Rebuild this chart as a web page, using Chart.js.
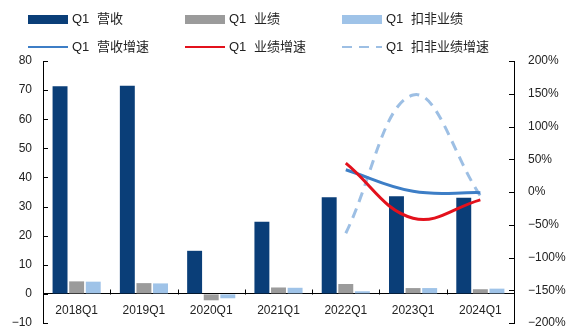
<!DOCTYPE html>
<html><head><meta charset="utf-8">
<script src="https://cdn.jsdelivr.net/npm/chart.js@4.4.1/dist/chart.umd.min.js"></script>
<style>html,body{margin:0;padding:0;background:#fff}#wrap{width:568px;height:332px;position:relative}</style>
</head><body><div id="wrap"><canvas id="c" width="568" height="332"></canvas></div>
<script>
const categories = ["2018Q1","2019Q1","2020Q1","2021Q1","2022Q1","2023Q1","2024Q1"];
const revenue = [71.3, 71.5, 14.8, 24.8, 33.2, 33.5, 33.0];
const profit = [4.3, 3.7, -2.2, 2.2, 3.4, 2.0, 1.6];
const profitDeducted = [4.2, 3.6, -1.5, 2.1, 0.9, 2.0, 1.8];
const revenueGrowth = [null, null, null, null, 34, 1, -1];
const profitGrowth = [null, null, null, null, 44, -40, -12];
const deductedGrowth = [null, null, null, null, -63, 148, -6];
const leftTicks = [-10, 0, 10, 20, 30, 40, 50, 60, 70, 80];
const rightTicks = [-200, -150, -100, -50, 0, 50, 100, 150, 200];

const FONT = "'Liberation Sans', Arial, 'Noto Sans CJK SC', sans-serif";
const minus = s => String(s).replace('-', '\u2212');

const legendPlugin = {
  id: 'customLegend',
  afterDraw(chart) {
    const ctx = chart.ctx;
    const ds = chart.data.datasets;
    const cols = [28, 185, 342];
    const rows = [19, 47];
    ctx.save();
    ctx.font = "13px " + FONT;
    ctx.textBaseline = 'middle';
    ctx.fillStyle = '#222';
    ds.forEach((d, i) => {
      const x = cols[i % 3], y = rows[Math.floor(i / 3)];
      if (d.type === 'line') {
        ctx.strokeStyle = d.borderColor;
        ctx.lineWidth = 2;
        ctx.setLineDash(d.borderDash || []);
        ctx.beginPath(); ctx.moveTo(x, y); ctx.lineTo(x + 40, y); ctx.stroke();
        ctx.setLineDash([]);
      } else {
        ctx.fillStyle = d.backgroundColor;
        ctx.fillRect(x, y - 4, 40, 9);
      }
      ctx.fillStyle = '#222';
      ctx.fillText('Q1', x + 44, y);
      ctx.fillText(d.label.replace('Q1 ', ''), x + 69, y);
    });
    ctx.restore();
  }
};

const tickPlugin = {
  id: 'innerTicks',
  afterDraw(chart) {
    const ctx = chart.ctx;
    const y = chart.scales.y, y1 = chart.scales.y1, x = chart.scales.x;
    const ca = chart.chartArea;
    ctx.save();
    ctx.strokeStyle = '#000';
    ctx.lineWidth = 1;
    ctx.beginPath();
    leftTicks.forEach(v => { const p = Math.round(y.getPixelForValue(v)) + 0.5; ctx.moveTo(ca.left, p); ctx.lineTo(ca.left + 5, p); });
    rightTicks.forEach(v => { const p = Math.round(y1.getPixelForValue(v)) + 0.5; ctx.moveTo(ca.right, p); ctx.lineTo(ca.right - 5, p); });
    const y0 = Math.round(y.getPixelForValue(0)) + 0.5;
    for (let i = 1; i < categories.length; i++) {
      const p = Math.round((x.getPixelForValue(i - 1) + x.getPixelForValue(i)) / 2) + 0.5;
      ctx.moveTo(p, y0); ctx.lineTo(p, y0 - 5);
    }
    ctx.stroke();
    ctx.restore();
  }
};

new Chart(document.getElementById('c'), {
  type: 'bar',
  data: {
    labels: categories,
    datasets: [
      { label: 'Q1 营收', data: revenue, backgroundColor: '#0a3e78', yAxisID: 'y', order: 2 },
      { label: 'Q1 业绩', data: profit, backgroundColor: '#9b9b9b', yAxisID: 'y', order: 2 },
      { label: 'Q1 扣非业绩', data: profitDeducted, backgroundColor: '#9fc3e8', yAxisID: 'y', order: 2 },
      { type: 'line', label: 'Q1 营收增速', data: revenueGrowth, borderColor: '#3d7ec6', borderWidth: 3, tension: 0.4, pointRadius: 0, yAxisID: 'y1', order: 1, fill: false },
      { type: 'line', label: 'Q1 业绩增速', data: profitGrowth, borderColor: '#e3111c', borderWidth: 3, tension: 0.4, pointRadius: 0, yAxisID: 'y1', order: 0, fill: false },
      { type: 'line', label: 'Q1 扣非业绩增速', data: deductedGrowth, borderColor: '#9dbfe4', borderWidth: 3, borderDash: [10, 7], tension: 0.4, pointRadius: 0, yAxisID: 'y1', order: 1, fill: false }
    ]
  },
  options: {
    responsive: false,
    animation: false,
    layout: { padding: { top: 61, bottom: 9, left: 0, right: 0 } },
    plugins: { legend: { display: false }, tooltip: { enabled: false } },
    datasets: { bar: { categoryPercentage: 0.74, barPercentage: 0.9 } },
    scales: {
      x: {
        position: { y: 0 },
        afterFit(s) { s.height = 0; },
        grid: { display: true, drawOnChartArea: false, drawTicks: false },
        border: { display: true, color: '#000', width: 1 },
        ticks: { color: '#222', font: { size: 12, family: FONT }, padding: 10, maxRotation: 0, autoSkip: false }
      },
      y: {
        position: 'left', min: -10, max: 80,
        afterFit(s) { s.width = 43; s.paddingTop = 0; s.paddingBottom = 0; },
        afterBuildTicks(s) { s.ticks = leftTicks.map(v => ({ value: v })); },
        grid: { display: true, drawOnChartArea: false, drawTicks: false },
        border: { display: true, color: '#000', width: 1 },
        ticks: { color: '#222', font: { size: 12, family: FONT }, padding: 11, callback: v => minus(v) }
      },
      y1: {
        position: 'right', min: -200, max: 200,
        afterFit(s) { s.width = 54; s.paddingTop = 0; s.paddingBottom = 0; },
        afterBuildTicks(s) { s.ticks = rightTicks.map(v => ({ value: v })); },
        grid: { display: true, drawOnChartArea: false, drawTicks: false },
        border: { display: true, color: '#000', width: 1 },
        ticks: { color: '#222', font: { size: 12, family: FONT }, padding: 14, callback: v => minus(v + '%') }
      }
    }
  },
  plugins: [legendPlugin, tickPlugin]
});
</script></body></html>
